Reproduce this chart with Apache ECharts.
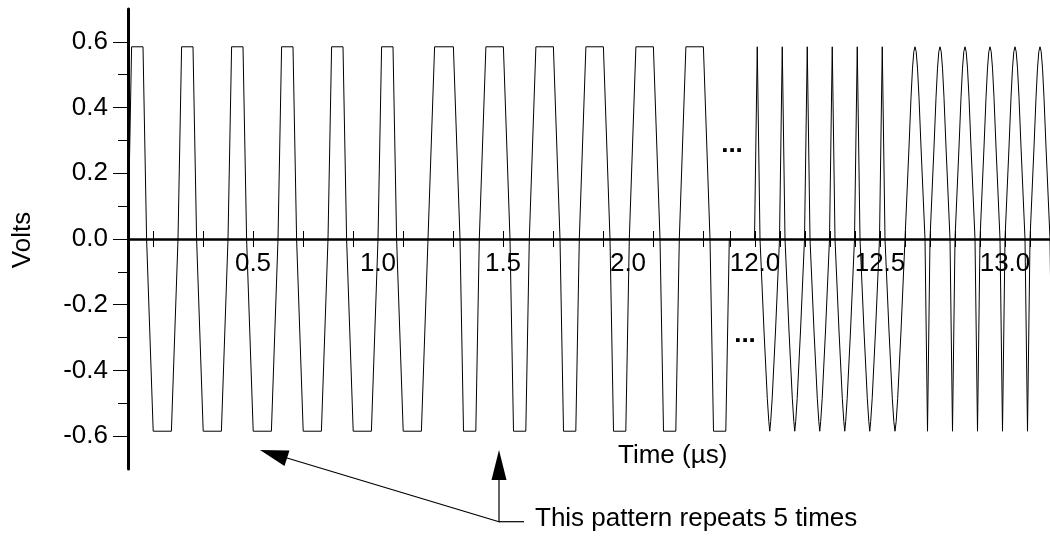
<!DOCTYPE html>
<html><head><meta charset="utf-8">
<script src="https://cdn.jsdelivr.net/npm/echarts@6/dist/echarts.min.js"></script>
<style>html,body{margin:0;padding:0;background:#fff}#c{width:1050px;height:541px}</style>
</head><body><div id="c"></div>
<script>
// ---- data (time in microseconds, voltage in volts) ----
const leftT = [
  0, 0.0144, 0.06, 0.0744, 0.1008, 0.1736,
  0.2, 0.2144, 0.26, 0.2744, 0.3008, 0.3736,
  0.4, 0.4144, 0.46, 0.4744, 0.5008, 0.5736,
  0.6, 0.6144, 0.66, 0.6744, 0.7008, 0.7736,
  0.8, 0.8144, 0.86, 0.8744, 0.9008, 0.9736,
  1.0, 1.0144, 1.06, 1.0744, 1.1008, 1.1736,
  1.2, 1.2264, 1.3016, 1.328, 1.342, 1.3912,
  1.4052, 1.4316, 1.5016, 1.528, 1.542, 1.5912,
  1.6052, 1.6316, 1.7016, 1.728, 1.742, 1.7912,
  1.8052, 1.8316, 1.9016, 1.928, 1.942, 1.9912,
  2.0052, 2.0316, 2.1016, 2.128, 2.142, 2.1912,
  2.2052, 2.2316, 2.3016, 2.328, 2.342, 2.3912,
  2.4052
];
const leftV = [
  0, 0.585, 0.585, 0, -0.585, -0.585,
  0, 0.585, 0.585, 0, -0.585, -0.585,
  0, 0.585, 0.585, 0, -0.585, -0.585,
  0, 0.585, 0.585, 0, -0.585, -0.585,
  0, 0.585, 0.585, 0, -0.585, -0.585,
  0, 0.585, 0.585, 0, -0.585, -0.585,
  0, 0.585, 0.585, 0, -0.585, -0.585,
  0, 0.585, 0.585, 0, -0.585, -0.585,
  0, 0.585, 0.585, 0, -0.585, -0.585,
  0, 0.585, 0.585, 0, -0.585, -0.585,
  0, 0.585, 0.585, 0, -0.585, -0.585,
  0, 0.585, 0.585, 0, -0.585, -0.585,
  0
];
const rightT = [
  11.998, 12.009, 12.020, 12.036, 12.0492, 12.0552, 12.059, 12.0628, 12.0688, 12.082,
  12.098, 12.109, 12.120, 12.136, 12.1492, 12.1552, 12.159, 12.1628, 12.1688, 12.182,
  12.198, 12.209, 12.220, 12.236, 12.2492, 12.2552, 12.259, 12.2628, 12.2688, 12.282,
  12.298, 12.309, 12.320, 12.336, 12.3492, 12.3552, 12.359, 12.3628, 12.3688, 12.382,
  12.398, 12.409, 12.420, 12.436, 12.4492, 12.4552, 12.459, 12.4628, 12.4688, 12.482,
  12.498, 12.509, 12.520, 12.536, 12.5492, 12.5552, 12.56, 12.5648, 12.5708, 12.584,
  12.6, 12.616, 12.624, 12.63, 12.6352, 12.64, 12.6448, 12.65, 12.656, 12.664, 12.68, 12.69,
  12.7, 12.716, 12.724, 12.73, 12.7352, 12.74, 12.7448, 12.75, 12.756, 12.764, 12.78, 12.79,
  12.8, 12.816, 12.824, 12.83, 12.8352, 12.84, 12.8448, 12.85, 12.856, 12.864, 12.88, 12.89,
  12.9, 12.916, 12.924, 12.93, 12.9352, 12.94, 12.9448, 12.95, 12.956, 12.964, 12.98, 12.99,
  13.0, 13.016, 13.024, 13.03, 13.0352, 13.04, 13.0448, 13.05, 13.056, 13.064, 13.08, 13.09,
  13.1, 13.116, 13.124, 13.13, 13.1352, 13.14, 13.1448, 13.15, 13.156, 13.164, 13.18, 13.19,
  13.2
];
const rightV = [
  0, 0.585, 0, -0.28, -0.485, -0.555, -0.585, -0.555, -0.485, -0.28,
  0, 0.585, 0, -0.28, -0.485, -0.555, -0.585, -0.555, -0.485, -0.28,
  0, 0.585, 0, -0.28, -0.485, -0.555, -0.585, -0.555, -0.485, -0.28,
  0, 0.585, 0, -0.28, -0.485, -0.555, -0.585, -0.555, -0.485, -0.28,
  0, 0.585, 0, -0.28, -0.485, -0.555, -0.585, -0.555, -0.485, -0.28,
  0, 0.585, 0, -0.28, -0.485, -0.555, -0.585, -0.555, -0.485, -0.28,
  0, 0.28, 0.43, 0.52, 0.57, 0.585, 0.57, 0.52, 0.43, 0.28, 0, -0.585,
  0, 0.28, 0.43, 0.52, 0.57, 0.585, 0.57, 0.52, 0.43, 0.28, 0, -0.585,
  0, 0.28, 0.43, 0.52, 0.57, 0.585, 0.57, 0.52, 0.43, 0.28, 0, -0.585,
  0, 0.28, 0.43, 0.52, 0.57, 0.585, 0.57, 0.52, 0.43, 0.28, 0, -0.585,
  0, 0.28, 0.43, 0.52, 0.57, 0.585, 0.57, 0.52, 0.43, 0.28, 0, -0.585,
  0, 0.28, 0.43, 0.52, 0.57, 0.585, 0.57, 0.52, 0.43, 0.28, 0, -0.585,
  0
];
const yRange = [-0.7, 0.7];
const yMajorTicks = [-0.6, -0.4, -0.2, 0, 0.2, 0.4, 0.6];
const yMinorTicks = [-0.5, -0.3, -0.1, 0.1, 0.3, 0.5];
const leftRange = [0, 2.408];
const leftTicks = [0.1, 0.3, 0.5, 0.7, 0.9, 1.1, 1.3, 1.5, 1.7, 1.9, 2.1, 2.3];
const leftLabels = [0.5, 1.0, 1.5, 2.0];
const rightRange = [11.9, 13.18];
const rightTicks = [11.9, 12.0, 12.1, 12.2, 12.3, 12.4, 12.5, 12.6, 12.7, 12.8, 12.9, 13.0, 13.1];
const rightLabels = [12.0, 12.5, 13.0];
const yTitle = 'Volts';
const xTitle = 'Time (\u00b5s)';
const note = 'This pattern repeats 5 times';
const ellipsis = '...';

// ---- chart ----
const FONT = '"Liberation Sans", Arial, Helvetica, sans-serif';
const GRID_TOP = 9, GRID_H = 460;
// distance from the grid bottom up to the zero line
const ZERO_OFF = -GRID_H * (0 - yRange[0]) / (yRange[1] - yRange[0]);
const chart = echarts.init(document.getElementById('c'), null, {renderer: 'canvas'});
const pairs = (t, v) => t.map((x, i) => [x, v[i]]);
const fmt = v => v.toFixed(1);

function xAxisPair(grid, range, ticks, labels) {
  return [
    { type: 'value', gridIndex: grid, min: range[0], max: range[1], position: 'bottom', offset: ZERO_OFF,
      axisLine: { show: true, onZero: false, lineStyle: { color: '#000', width: 2.5 } },
      axisTick: { show: true, customValues: ticks, inside: false, length: 8, lineStyle: { color: '#000', width: 1 } },
      axisLabel: { show: true, customValues: labels, formatter: fmt, margin: 12,
        color: '#000', fontSize: 26, fontFamily: FONT },
      splitLine: { show: false } },
    { type: 'value', gridIndex: grid, min: range[0], max: range[1], position: 'bottom', offset: ZERO_OFF,
      axisLine: { show: false, onZero: false },
      axisTick: { show: true, customValues: ticks, inside: true, length: 8, lineStyle: { color: '#000', width: 1 } },
      axisLabel: { show: false }, splitLine: { show: false } }
  ];
}

const option = {
  animation: false,
  backgroundColor: '#fff',
  grid: [
    { left: 128, top: GRID_TOP, width: 602, height: GRID_H },
    { left: 730, top: GRID_TOP, width: 320, height: GRID_H }
  ],
  xAxis: [
    ...xAxisPair(0, leftRange, leftTicks, leftLabels),
    ...xAxisPair(1, rightRange, rightTicks, rightLabels)
  ],
  yAxis: [
    { type: 'value', gridIndex: 0, min: yRange[0], max: yRange[1], position: 'left',
      axisLine: { show: true, onZero: false, lineStyle: { color: '#000', width: 3 } },
      axisTick: { show: true, customValues: yMajorTicks, inside: false, length: 15, lineStyle: { color: '#000', width: 1 } },
      axisLabel: { show: true, customValues: yMajorTicks, formatter: fmt, margin: 20,
        color: '#000', fontSize: 26, fontFamily: FONT },
      splitLine: { show: false } },
    { type: 'value', gridIndex: 0, min: yRange[0], max: yRange[1], position: 'left',
      axisLine: { show: false, onZero: false },
      axisTick: { show: true, customValues: yMinorTicks, inside: false, length: 10, lineStyle: { color: '#000', width: 1 } },
      axisLabel: { show: false }, splitLine: { show: false } },
    { type: 'value', gridIndex: 1, min: yRange[0], max: yRange[1], show: false },
    { type: 'value', gridIndex: 1, min: yRange[0], max: yRange[1], show: false }
  ],
  series: [
    { type: 'line', xAxisIndex: 0, yAxisIndex: 0, data: pairs(leftT, leftV),
      symbol: 'none', clip: true, lineStyle: { color: '#000', width: 1 } },
    { type: 'line', xAxisIndex: 2, yAxisIndex: 2, data: pairs(rightT, rightV),
      symbol: 'none', clip: true, lineStyle: { color: '#000', width: 1 } }
  ],
  graphic: [
    { type: 'text', x: 23, y: 240, rotation: Math.PI / 2,
      style: { text: yTitle, font: '26px ' + FONT, fill: '#000', align: 'center', verticalAlign: 'middle', textAlign: 'center', textVerticalAlign: 'middle' } },
    { type: 'text', x: 618, y: 456,
      style: { text: xTitle, font: '26px ' + FONT, fill: '#000', align: 'left', verticalAlign: 'middle', textAlign: 'left', textVerticalAlign: 'middle' } },
    { type: 'text', x: 732, y: 145,
      style: { text: ellipsis, font: 'bold 26px ' + FONT, fill: '#000', align: 'center', verticalAlign: 'middle', textAlign: 'center', textVerticalAlign: 'middle' } },
    { type: 'text', x: 745, y: 335,
      style: { text: ellipsis, font: 'bold 26px ' + FONT, fill: '#000', align: 'center', verticalAlign: 'middle', textAlign: 'center', textVerticalAlign: 'middle' } },
    { type: 'polyline', shape: { points: [[287, 458], [499, 521.7], [499, 480]] },
      style: { stroke: '#000', lineWidth: 1.2, fill: null } },
    { type: 'polyline', shape: { points: [[499, 521.7], [524, 521.7]] },
      style: { stroke: '#000', lineWidth: 1.2, fill: null } },
    { type: 'polygon', shape: { points: [[260, 450], [289.5, 450.5], [284.5, 466]] },
      style: { fill: '#000' } },
    { type: 'polygon', shape: { points: [[499, 450], [491.5, 480], [506.5, 480]] },
      style: { fill: '#000' } },
    { type: 'text', x: 535, y: 519,
      style: { text: note, font: '26px ' + FONT, fill: '#000', align: 'left', verticalAlign: 'middle', textAlign: 'left', textVerticalAlign: 'middle' } }
  ]
};
chart.setOption(option);
</script>
</body></html>
